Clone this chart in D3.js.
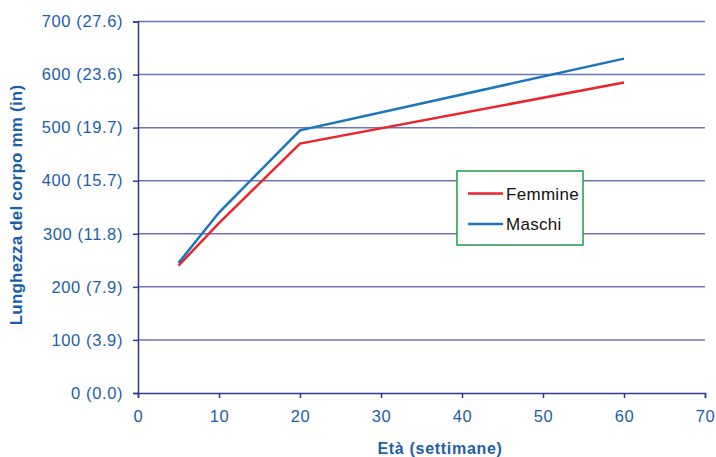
<!DOCTYPE html>
<html><head><meta charset="utf-8">
<script src="https://cdn.jsdelivr.net/npm/d3@7"></script>
<style>body{margin:0;background:#fff}</style>
</head><body>
<svg id="c" width="716" height="457"></svg>
<script>
const ages = [5, 10, 20, 60];
const femmine = [240, 320, 470, 585];
const maschi = [245, 340, 495, 630];
const yTicks = [0, 100, 200, 300, 400, 500, 600, 700];
const yTickLabels = ["0 (0.0)", "100 (3.9)", "200 (7.9)", "300 (11.8)", "400 (15.7)", "500 (19.7)", "600 (23.6)", "700 (27.6)"];
const xTicks = [0, 10, 20, 30, 40, 50, 60, 70];
const seriesNames = ["Femmine", "Maschi"];
const seriesColors = ["#e8262b", "#1a75bb"];

const svg = d3.select("#c");
const x = d3.scaleLinear().domain([0, 70]).range([138, 705]);
const y = d3.scaleLinear().domain([0, 700]).range([393, 21.5]);
const font = "Liberation Sans, Arial, sans-serif";
const labelColor = "#1b5ea8";
const axisColor = "#2e3a8c";

// gridlines
svg.append("g").selectAll("line").data(yTicks.filter(d => d > 0)).join("line")
  .attr("x1", x(0)).attr("x2", x(70)).attr("y1", d => y(d)).attr("y2", d => y(d))
  .attr("stroke", "#6b74b6").attr("stroke-width", 1.5);

// y axis
const yAxis = d3.axisLeft(y).tickValues(yTicks).tickSize(5).tickPadding(10)
  .tickFormat((d, i) => yTickLabels[i]);
const gy = svg.append("g").attr("transform", `translate(${x(0)},0)`).call(yAxis);
gy.select(".domain").attr("stroke", axisColor).attr("stroke-width", 1.5);
gy.selectAll(".tick line").attr("stroke", axisColor).attr("stroke-width", 1.5);
gy.selectAll("text").attr("font-family", font).attr("font-size", 16.5)
  .attr("letter-spacing", 0.6).attr("fill", labelColor);

// x axis
const xAxis = d3.axisBottom(x).tickValues(xTicks).tickSize(5).tickPadding(12);
const gx = svg.append("g").attr("transform", `translate(0,${y(0)})`).call(xAxis);
gx.select(".domain").attr("stroke", axisColor).attr("stroke-width", 1.5);
gx.selectAll(".tick line").attr("stroke", axisColor).attr("stroke-width", 1.5);
gx.selectAll("text").attr("font-family", font).attr("font-size", 16.5)
  .attr("letter-spacing", 0.6).attr("fill", labelColor);

// lines
const line = d3.line().x(d => x(d[0])).y(d => y(d[1]));
[femmine, maschi].forEach((vals, i) => {
  svg.append("path").datum(ages.map((a, j) => [a, vals[j]]))
    .attr("d", line).attr("fill", "none")
    .attr("stroke", seriesColors[i]).attr("stroke-width", 2.5);
});

// axis titles
svg.append("text").attr("x", 440).attr("y", 454).attr("text-anchor", "middle")
  .attr("font-family", font).attr("font-weight", "bold").attr("font-size", 16)
  .attr("letter-spacing", 0.7).attr("fill", labelColor).text("Età (settimane)");
svg.append("text").attr("transform", "translate(22,205) rotate(-90)").attr("text-anchor", "middle")
  .attr("font-family", font).attr("font-weight", "bold").attr("font-size", 17)
  .attr("letter-spacing", 0.2).attr("fill", labelColor).text("Lunghezza del corpo mm (in)");

// legend
const lg = svg.append("g");
lg.append("rect").attr("x", 457).attr("y", 171).attr("width", 126).attr("height", 74)
  .attr("fill", "#fff").attr("stroke", "#1f9a4a").attr("stroke-width", 1.5);
seriesNames.forEach((n, i) => {
  const yy = 193.5 + i * 30.5;
  lg.append("line").attr("x1", 468).attr("x2", 503).attr("y1", yy).attr("y2", yy)
    .attr("stroke", seriesColors[i]).attr("stroke-width", 2.5);
  lg.append("text").attr("x", 506).attr("y", yy + 6).attr("font-family", font)
    .attr("font-size", 17).attr("letter-spacing", 0.3).attr("fill", "#111").text(n);
});
</script>
</body></html>
